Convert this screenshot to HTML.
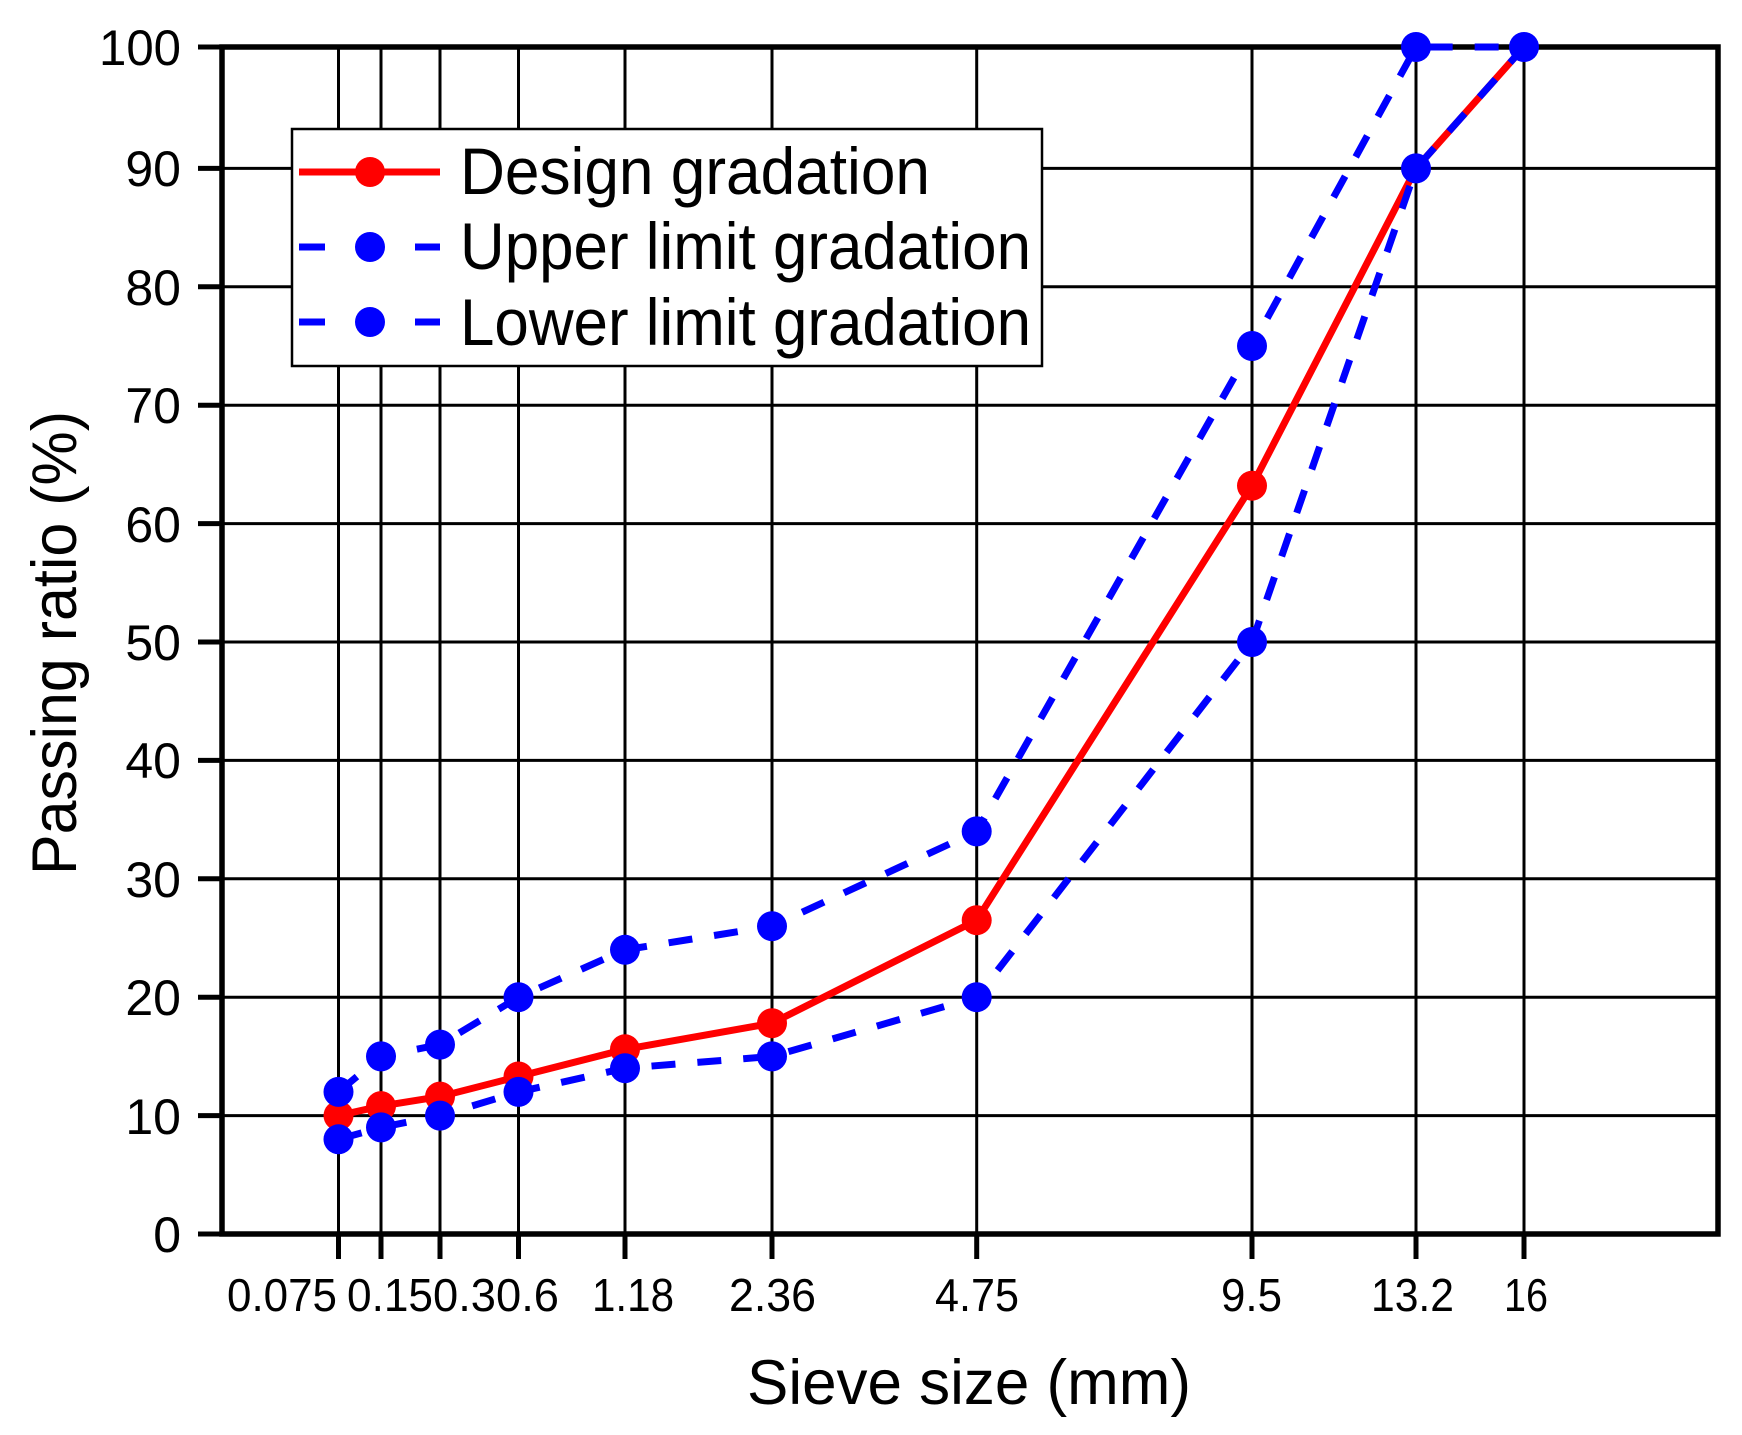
<!DOCTYPE html>
<html><head><meta charset="utf-8"><style>html,body{margin:0;padding:0;background:#fff}svg{display:block}</style></head>
<body>
<svg width="1742" height="1435" viewBox="0 0 1742 1435" xmlns="http://www.w3.org/2000/svg" font-family="Liberation Sans, Arial, sans-serif">
<rect width="1742" height="1435" fill="#fff"/>
<g stroke="#000" stroke-width="3">
<line x1="222" x2="1718" y1="1115.6" y2="1115.6"/>
<line x1="222" x2="1718" y1="997.2" y2="997.2"/>
<line x1="222" x2="1718" y1="878.8" y2="878.8"/>
<line x1="222" x2="1718" y1="760.4" y2="760.4"/>
<line x1="222" x2="1718" y1="642" y2="642"/>
<line x1="222" x2="1718" y1="523.6" y2="523.6"/>
<line x1="222" x2="1718" y1="405.2" y2="405.2"/>
<line x1="222" x2="1718" y1="286.8" y2="286.8"/>
<line x1="222" x2="1718" y1="168.4" y2="168.4"/>
</g>
<g stroke="#000" stroke-width="3">
<line x1="338.5" x2="338.5" y1="47" y2="1234"/>
<line x1="381" x2="381" y1="47" y2="1234"/>
<line x1="440" x2="440" y1="47" y2="1234"/>
<line x1="518.5" x2="518.5" y1="47" y2="1234"/>
<line x1="625" x2="625" y1="47" y2="1234"/>
<line x1="772" x2="772" y1="47" y2="1234"/>
<line x1="976.7" x2="976.7" y1="47" y2="1234"/>
<line x1="1252" x2="1252" y1="47" y2="1234"/>
<line x1="1416" x2="1416" y1="47" y2="1234"/>
<line x1="1524" x2="1524" y1="47" y2="1234"/>
</g>
<g stroke="#000" stroke-width="5">
<line x1="338.5" x2="338.5" y1="1234" y2="1259"/>
<line x1="381" x2="381" y1="1234" y2="1259"/>
<line x1="440" x2="440" y1="1234" y2="1259"/>
<line x1="518.5" x2="518.5" y1="1234" y2="1259"/>
<line x1="625" x2="625" y1="1234" y2="1259"/>
<line x1="772" x2="772" y1="1234" y2="1259"/>
<line x1="976.7" x2="976.7" y1="1234" y2="1259"/>
<line x1="1252" x2="1252" y1="1234" y2="1259"/>
<line x1="1416" x2="1416" y1="1234" y2="1259"/>
<line x1="1524" x2="1524" y1="1234" y2="1259"/>
<line x1="198" x2="222" y1="1234" y2="1234"/>
<line x1="198" x2="222" y1="1115.6" y2="1115.6"/>
<line x1="198" x2="222" y1="997.2" y2="997.2"/>
<line x1="198" x2="222" y1="878.8" y2="878.8"/>
<line x1="198" x2="222" y1="760.4" y2="760.4"/>
<line x1="198" x2="222" y1="642" y2="642"/>
<line x1="198" x2="222" y1="523.6" y2="523.6"/>
<line x1="198" x2="222" y1="405.2" y2="405.2"/>
<line x1="198" x2="222" y1="286.8" y2="286.8"/>
<line x1="198" x2="222" y1="168.4" y2="168.4"/>
<line x1="198" x2="222" y1="47" y2="47"/>
</g>
<rect x="222" y="47" width="1496" height="1187" fill="none" stroke="#000" stroke-width="5.5"/>

<polyline fill="none" stroke="#ff0000" stroke-width="7" points="338.5,1115.6 381,1106.1 440,1096.6 518.5,1076.5 625,1049.3 772,1023.2 976.7,920.2 1252,485.7 1416,168.4 1524,47"/>
<g fill="none" stroke="#0000ff" stroke-width="7" stroke-dasharray="24 22">
<polyline points="338.5,1091.9 381,1056.4 440,1044.6 518.5,997.2 625,949.8 772,926.2 976.7,831.4 1252,346 1416,47 1524,47"/>
<polyline points="338.5,1139.3 381,1127.4 440,1115.6 518.5,1091.9 625,1068.2 772,1056.4 976.7,997.2 1252,642 1416,168.4 1524,47"/>
</g>
<g fill="#ff0000">
<circle cx="338.5" cy="1115.6" r="15"/><circle cx="381" cy="1106.1" r="15"/><circle cx="440" cy="1096.6" r="15"/><circle cx="518.5" cy="1076.5" r="15"/><circle cx="625" cy="1049.3" r="15"/><circle cx="772" cy="1023.2" r="15"/><circle cx="976.7" cy="920.2" r="15"/><circle cx="1252" cy="485.7" r="15"/>
</g>
<g fill="#0000ff">
<circle cx="338.5" cy="1091.9" r="15"/><circle cx="381" cy="1056.4" r="15"/><circle cx="440" cy="1044.6" r="15"/><circle cx="518.5" cy="997.2" r="15"/><circle cx="625" cy="949.8" r="15"/><circle cx="772" cy="926.2" r="15"/><circle cx="976.7" cy="831.4" r="15"/><circle cx="1252" cy="346" r="15"/><circle cx="1416" cy="47" r="15"/><circle cx="1524" cy="47" r="15"/>
<circle cx="338.5" cy="1139.3" r="15"/><circle cx="381" cy="1127.4" r="15"/><circle cx="440" cy="1115.6" r="15"/><circle cx="518.5" cy="1091.9" r="15"/><circle cx="625" cy="1068.2" r="15"/><circle cx="772" cy="1056.4" r="15"/><circle cx="976.7" cy="997.2" r="15"/><circle cx="1252" cy="642" r="15"/><circle cx="1416" cy="168.4" r="15"/>
</g>

<g font-size="50" text-anchor="end" fill="#000">
<text x="181" y="1252">0</text>
<text x="181" y="1134">10</text>
<text x="181" y="1015">20</text>
<text x="181" y="897">30</text>
<text x="181" y="778">40</text>
<text x="181" y="660">50</text>
<text x="181" y="542">60</text>
<text x="181" y="423">70</text>
<text x="181" y="305">80</text>
<text x="181" y="186">90</text>
<text x="181" y="65" textLength="82" lengthAdjust="spacingAndGlyphs">100</text>
</g>
<g font-size="46" fill="#000">
<text x="227" y="1311" textLength="110" lengthAdjust="spacingAndGlyphs">0.075</text>
<text x="347" y="1311" textLength="86" lengthAdjust="spacingAndGlyphs">0.15</text>
<text x="433" y="1311" textLength="63" lengthAdjust="spacingAndGlyphs">0.3</text>
<text x="496" y="1311" textLength="63" lengthAdjust="spacingAndGlyphs">0.6</text>
<text x="592" y="1311" textLength="82" lengthAdjust="spacingAndGlyphs">1.18</text>
<text x="729" y="1311" textLength="87" lengthAdjust="spacingAndGlyphs">2.36</text>
<text x="935" y="1311" textLength="84" lengthAdjust="spacingAndGlyphs">4.75</text>
<text x="1221" y="1311" textLength="61" lengthAdjust="spacingAndGlyphs">9.5</text>
<text x="1371" y="1311" textLength="83" lengthAdjust="spacingAndGlyphs">13.2</text>
<text x="1504" y="1311" textLength="44" lengthAdjust="spacingAndGlyphs">16</text>
</g>
<text x="747" y="1404" font-size="63" textLength="444" lengthAdjust="spacingAndGlyphs" fill="#000">Sieve size (mm)</text>
<text transform="translate(76,643) rotate(-90)" font-size="63" text-anchor="middle" textLength="464" lengthAdjust="spacingAndGlyphs" fill="#000">Passing ratio (%)</text>

<rect x="292" y="129" width="750" height="237" fill="#fff" stroke="#000" stroke-width="2.5"/>
<line x1="299" x2="440" y1="172" y2="172" stroke="#ff0000" stroke-width="7"/>
<circle cx="370" cy="172" r="15" fill="#ff0000"/>
<line x1="299" x2="325" y1="247" y2="247" stroke="#0000ff" stroke-width="7"/>
<line x1="415" x2="440" y1="247" y2="247" stroke="#0000ff" stroke-width="7"/>
<circle cx="370" cy="247" r="15" fill="#0000ff"/>
<line x1="299" x2="325" y1="322" y2="322" stroke="#0000ff" stroke-width="7"/>
<line x1="415" x2="440" y1="322" y2="322" stroke="#0000ff" stroke-width="7"/>
<circle cx="370" cy="322" r="15" fill="#0000ff"/>
<g font-size="66" fill="#000">
<text x="460" y="194" textLength="470" lengthAdjust="spacingAndGlyphs">Design gradation</text>
<text x="460" y="269" textLength="571" lengthAdjust="spacingAndGlyphs">Upper limit gradation</text>
<text x="460" y="345" textLength="571" lengthAdjust="spacingAndGlyphs">Lower limit gradation</text>
</g>
</svg>
</body></html>
